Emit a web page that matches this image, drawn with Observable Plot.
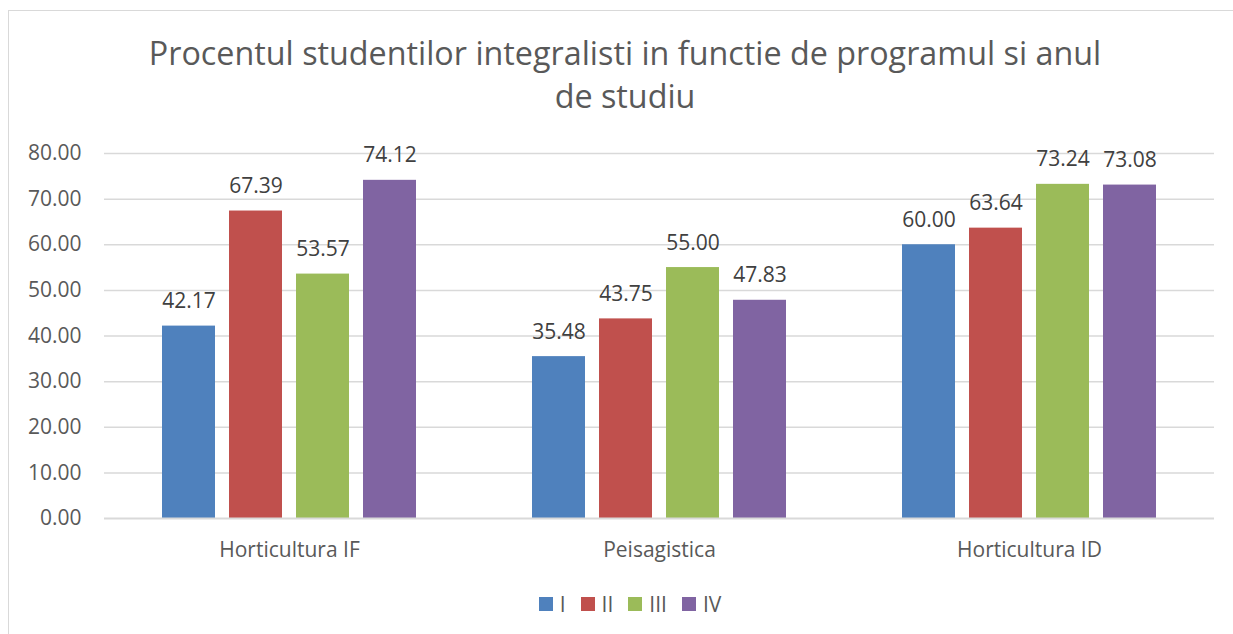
<!DOCTYPE html>
<html><head><meta charset="utf-8">
<script src="https://cdn.jsdelivr.net/npm/d3@7"></script>
<script src="https://cdn.jsdelivr.net/npm/@observablehq/plot@0.6"></script>
<style>
body{margin:0;background:#fff;font-family:"Open Sans",sans-serif;color:#595959;}
#wrap{position:relative;width:1233px;height:634px;overflow:hidden;}
#frame{position:absolute;left:8px;top:10px;width:1240px;height:640px;border:1px solid #d9d9d9;box-sizing:border-box;}
#title{position:absolute;left:8px;width:1234px;top:31px;text-align:center;font-size:32.3px;line-height:43px;color:#595959;}
#chart{position:absolute;left:0;top:120px;}
#legend{position:absolute;top:590px;left:0;width:1260px;display:flex;justify-content:center;align-items:center;gap:15px;font-size:21px;line-height:28px;color:#595959;}
.item{display:flex;align-items:center;gap:7px;}
.sw{width:14px;height:14px;display:inline-block;}
</style></head>
<body>
<div id="wrap">
  <div id="frame"></div>
  <div id="title">Procentul studentilor integralisti in functie de programul si anul<br>de studiu</div>
  <div id="chart"></div>
  <div id="legend"></div>
</div>
<script>
const programs = ["Horticultura IF", "Peisagistica", "Horticultura ID"];
const years = ["I", "II", "III", "IV"];
const valuesI = [42.17, 35.48, 60.00];
const valuesII = [67.39, 43.75, 63.64];
const valuesIII = [53.57, 55.00, 73.24];
const valuesIV = [74.12, 47.83, 73.08];
const yTicks = [0, 10, 20, 30, 40, 50, 60, 70, 80];
const colors = ["#4F81BD", "#C0504D", "#9BBB59", "#8064A2"];

const series = [valuesI, valuesII, valuesIII, valuesIV];
const data = [];
programs.forEach((p, i) => years.forEach((y, j) => data.push({program: p, year: y, value: series[j][i]})));

const chart = Plot.plot({
  width: 1233,
  height: 460,
  marginTop: 33,
  marginBottom: 62,
  marginLeft: 103,
  marginRight: 18,
  style: {fontFamily: "Open Sans", fontSize: "21px", color: "#595959", background: "transparent", overflow: "visible"},
  fx: {domain: programs, padding: 0, label: null, axis: null},
  x: {domain: years, paddingInner: 0.216, paddingOuter: 0.866, axis: null},
  y: {domain: [0, 80], label: null, axis: null},
  color: {domain: years, range: colors},
  marks: [
    Plot.ruleY(yTicks.filter(d => d > 0), {stroke: "#d9d9d9", strokeWidth: 1.5}),
    Plot.barY(data, {fx: "program", x: "year", y: "value", fill: "year"}),
    Plot.ruleY([0], {stroke: "#d9d9d9", strokeWidth: 2}),
    Plot.text(data, {fx: "program", x: "year", y: "value", text: d => d.value.toFixed(2), lineAnchor: "bottom", dy: -18, fill: "#404040", fontSize: 21}),
    Plot.axisY({ticks: yTicks, tickSize: 0, tickPadding: 23, tickFormat: d => d.toFixed(2), label: null, fill: "#595959"}),
    Plot.axisFx({anchor: "bottom", tickSize: 0, tickPadding: 24, label: null, fill: "#595959"})
  ]
});
document.getElementById("chart").appendChild(chart);

const legend = d3.select("#legend");
years.forEach((y, i) => {
  const it = legend.append("div").attr("class", "item");
  it.append("span").attr("class", "sw").style("background", colors[i]);
  it.append("span").text(y);
});
</script>
</body></html>
